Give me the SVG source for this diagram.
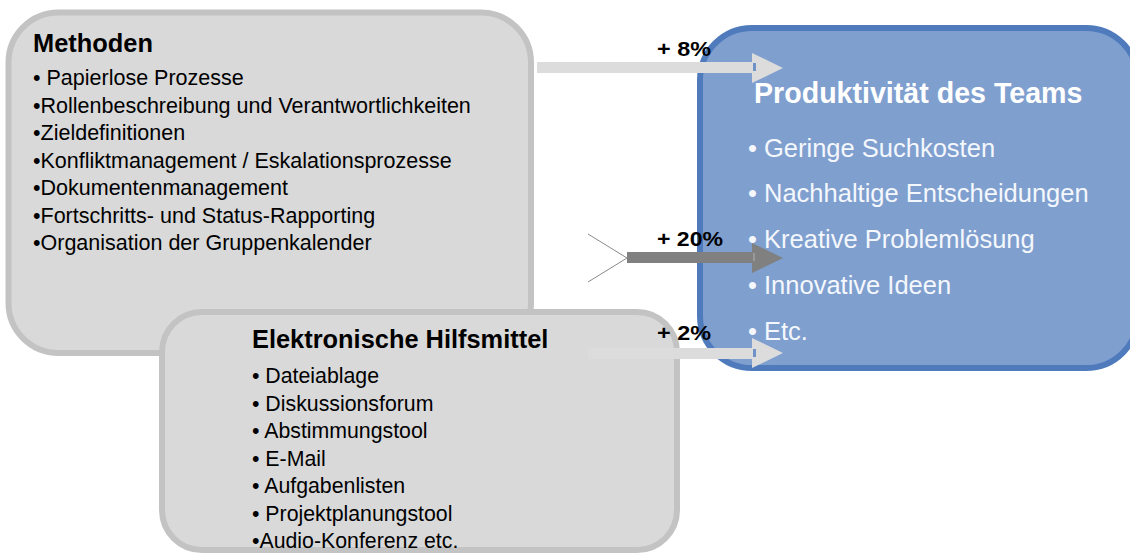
<svg xmlns="http://www.w3.org/2000/svg" width="1130" height="554" viewBox="0 0 1130 554">
  <style>
    .grey { fill: #d9d9d9; stroke: #c3c3c3; stroke-width: 6; }
    .blue { fill: #7f9fcf; stroke: #4f7bbd; stroke-width: 6; }
    .t { font-family: "Liberation Sans", Arial, sans-serif; fill: #000; }
    .title { font-weight: bold; font-size: 25.4px; }
    .item { font-size: 21.5px; }
    .item2 { font-size: 21.3px; }
    .wtitle { font-family: "Liberation Sans", Arial, sans-serif; font-weight: bold; font-size: 28.6px; fill: #ffffff; }
    .witem { font-family: "Liberation Sans", Arial, sans-serif; font-size: 25.5px; fill: #f4f7fc; }
    .pct { font-family: "Liberation Sans", Arial, sans-serif; font-weight: bold; font-size: 21px; fill: #000; }
    .light { fill: #dcdcdc; }
    .dark { fill: #808080; }
  </style>

  <rect width="1130" height="554" fill="#ffffff"/>

  <!-- Methods box -->
  <g id="methoden">
    <rect class="grey" x="8.5" y="12.5" width="522.5" height="340.5" rx="50"/>
    <text class="t title" x="33" y="52">Methoden</text>
    <text class="t item" x="33" y="85">• Papierlose Prozesse</text>
    <text class="t item" x="33" y="112.5">•Rollenbeschreibung und Verantwortlichkeiten</text>
    <text class="t item" x="33" y="140">•Zieldefinitionen</text>
    <text class="t item" x="33" y="167.5">•Konfliktmanagement / Eskalationsprozesse</text>
    <text class="t item" x="33" y="195">•Dokumentenmanagement</text>
    <text class="t item" x="33" y="222.5">•Fortschritts- und Status-Rapporting</text>
    <text class="t item" x="33" y="250">•Organisation der Gruppenkalender</text>
  </g>

  <!-- Electronic tools box -->
  <g id="hilfsmittel">
    <rect class="grey" x="162" y="312" width="515" height="238" rx="40"/>
    <text class="t title" x="252" y="348">Elektronische Hilfsmittel</text>
    <text class="t item2" x="252" y="383">• Dateiablage</text>
    <text class="t item2" x="252" y="410.5">• Diskussionsforum</text>
    <text class="t item2" x="252" y="438">• Abstimmungstool</text>
    <text class="t item2" x="252" y="465.5">• E-Mail</text>
    <text class="t item2" x="252" y="493">• Aufgabenlisten</text>
    <text class="t item2" x="252" y="520.5">• Projektplanungstool</text>
    <text class="t item2" x="252" y="548">•Audio-Konferenz etc.</text>
  </g>

  <!-- Team productivity box -->
  <g id="produktivitaet">
    <rect class="blue" x="700" y="28" width="438" height="340" rx="52"/>
    <text class="wtitle" x="754" y="103">Produktivität des Teams</text>
    <text class="witem" x="748" y="157">• Geringe Suchkosten</text>
    <text class="witem" x="748" y="202">• Nachhaltige Entscheidungen</text>
    <text class="witem" x="748" y="248">• Kreative Problemlösung</text>
    <text class="witem" x="748" y="294">• Innovative Ideen</text>
    <text class="witem" x="748" y="340">• Etc.</text>
  </g>

  <!-- Connectors -->
  <g id="connectors">
    <!-- +8% -->
    <rect class="light" x="537" y="62" width="215" height="11"/>
    <polygon class="light" points="752,53 783,68 752,83"/>
    <rect x="753" y="63" width="3" height="8" fill="#6f93c8"/>
    <!-- +20% -->
    <line x1="588" y1="234" x2="627" y2="258" stroke="#8a8a8a" stroke-width="1"/>
    <line x1="588" y1="282" x2="627" y2="258" stroke="#8a8a8a" stroke-width="1"/>
    <rect class="dark" x="627" y="252" width="125" height="11"/>
    <polygon class="dark" points="752,243 783,258 752,273"/>
    <rect x="753" y="253" width="2" height="8" fill="#9a9a9a"/>
    <!-- +2% -->
    <rect class="light" x="588" y="348" width="164" height="11"/>
    <polygon class="light" points="752,338 783,353 752,368"/>
    <rect x="753" y="349" width="3" height="8" fill="#6f93c8"/>

    <text class="pct" x="657" y="56" textLength="54" lengthAdjust="spacingAndGlyphs">+ 8%</text>
    <text class="pct" x="657" y="246" textLength="66" lengthAdjust="spacingAndGlyphs">+ 20%</text>
    <text class="pct" x="657" y="340" textLength="54" lengthAdjust="spacingAndGlyphs">+ 2%</text>
  </g>
</svg>
